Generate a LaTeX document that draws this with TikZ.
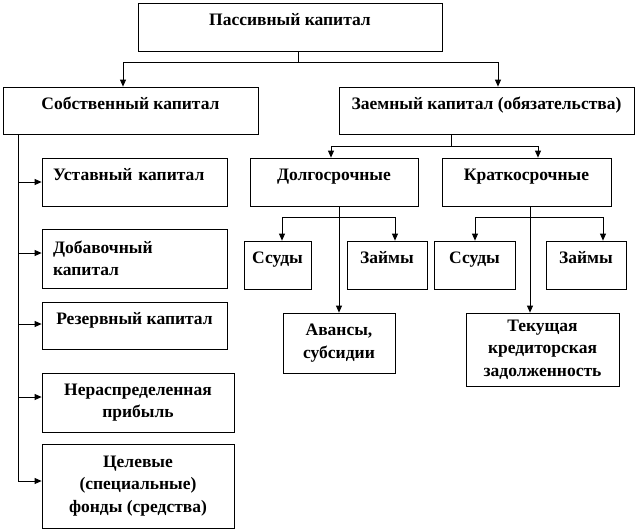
\documentclass[tikz,border=0pt]{standalone}
\usepackage{fontspec}
\setmainfont{Liberation Serif}
\usetikzlibrary{arrows.meta}
\tikzset{
  box/.style={draw, line width=0.8pt, inner sep=2pt, align=center,
    font=\fontsize{17.5}{22.5}\selectfont\bfseries},
  oneline/.style={text depth=15pt},
  leftbox/.style={text width=163pt, align=left},
}
\begin{document}
\begin{tikzpicture}[x=1pt, y=-1pt, line width=0.8pt, >={Triangle[length=7pt,width=6pt]}]
\useasboundingbox (0,0) rectangle (638,531);
\node[box, oneline, minimum width=304pt, minimum height=48pt] (pas) at (290,27) {Пассивный капитал};
\node[box, oneline, minimum width=255pt, minimum height=47pt] (sob) at (130.5,110.5) {Собственный капитал};
\node[box, oneline, minimum width=295pt, minimum height=47pt] (zaem) at (486.5,110.5) {Заемный капитал (обязательства)};
\node[box, oneline, leftbox, minimum width=185pt, minimum height=48pt] (ust) at (134.5,182) {Уставный капитал};
\node[box, leftbox, minimum width=185pt, minimum height=59pt] (dob) at (134.5,258.5) {Добавочный\\капитал};
\node[box, oneline, minimum width=185pt, minimum height=47pt] (rez) at (134.5,325.5) {Резервный капитал};
\node[box, minimum width=192pt, minimum height=59pt] (ner) at (138,402.5) {Нераспределенная\\прибыль};
\node[box, minimum width=192pt, minimum height=84pt] (cel) at (138,486) {Целевые\\(специальные)\\фонды (средства)};
\node[box, oneline, minimum width=168pt, minimum height=48pt] (dolg) at (334,182) {Долгосрочные};
\node[box, oneline, minimum width=169pt, minimum height=48pt] (krat) at (526.5,182) {Краткосрочные};
\node[box, oneline, minimum width=67pt, minimum height=48pt] (ssud1) at (277.5,265) {Ссуды};
\node[box, oneline, minimum width=80pt, minimum height=48pt] (zaim1) at (387,265) {Займы};
\node[box, minimum width=112pt, minimum height=60pt] (avans) at (339,343) {Авансы,\\субсидии};
\node[box, oneline, minimum width=81pt, minimum height=48pt] (ssud2) at (474.5,265) {Ссуды};
\node[box, oneline, minimum width=80pt, minimum height=48pt] (zaim2) at (586,265) {Займы};
\node[box, minimum width=153pt, minimum height=73pt] (tek) at (542.5,349.5) {Текущая\\кредиторская\\задолженность};
\coordinate (j1) at (298,62);
\coordinate (j2) at (451,146);
\coordinate (j3) at (339,217);
\coordinate (j4) at (530,217);
\coordinate (s1) at (18,0);
\draw (j1 |- pas.south) -- (j1);
\draw[->] (j1) -| ([xshift=-7.5pt]sob.north);
\draw[->] (j1) -| ([xshift=11.5pt]zaem.north);
\draw (j2 |- zaem.south) -- (j2);
\draw[->] (j2) -| ([xshift=-3pt]dolg.north);
\draw[->] (j2) -| ([xshift=11.5pt]krat.north);
\draw[->] (s1 |- sob.south) |- (ust.west);
\draw[->] (s1 |- sob.south) |- ([yshift=5.5pt]dob.west);
\draw[->] (s1 |- sob.south) |- ([yshift=1.5pt]rez.west);
\draw[->] (s1 |- sob.south) |- ([yshift=5.5pt]ner.west);
\draw[->] (s1 |- sob.south) |- ([yshift=5pt]cel.west);
\draw[->] ([xshift=5pt]dolg.south) -- (avans.north);
\draw[->] (j3) -| ([xshift=4.5pt]ssud1.north);
\draw[->] (j3) -| ([xshift=8pt]zaim1.north);
\draw[->] ([xshift=3.5pt]krat.south) -- ([xshift=-12.5pt]tek.north);
\draw[->] (j4) -| ([xshift=0.5pt]ssud2.north);
\draw[->] (j4) -| ([xshift=17pt]zaim2.north);
\end{tikzpicture}
\end{document}
